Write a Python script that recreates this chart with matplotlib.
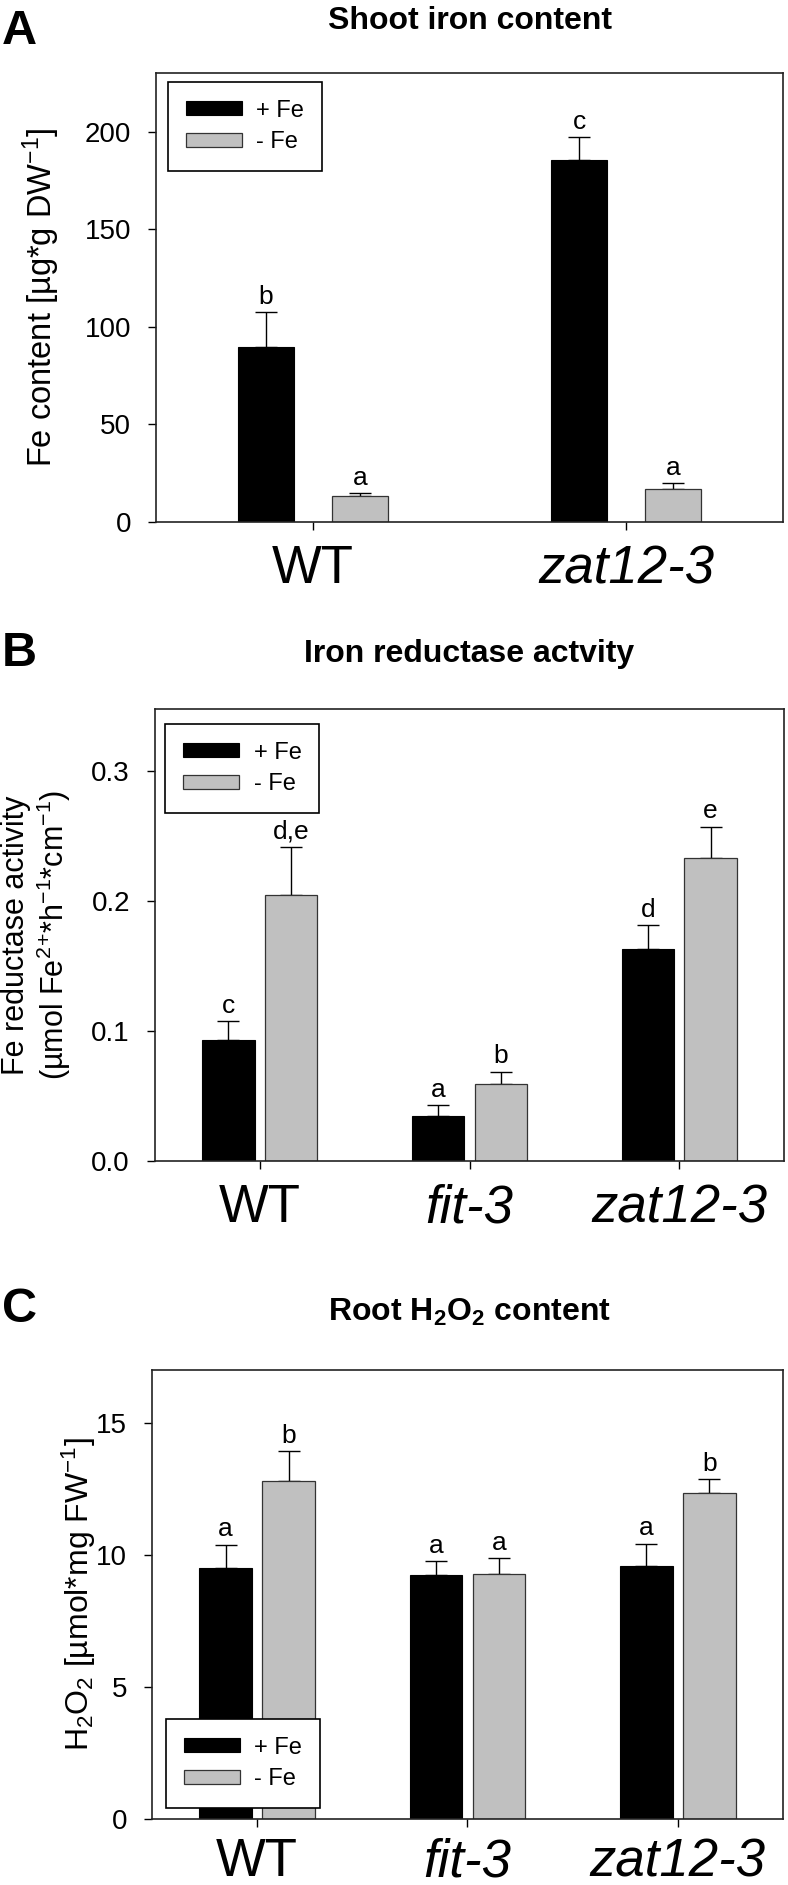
# Три панели: железо в побегах, редуктазная активность, H2O2 в корнях

import matplotlib
matplotlib.use("Agg")
import matplotlib.pyplot as plt
from matplotlib import font_manager

# Шрифт (Arial-подобный)
try:
    font_manager.findfont("Liberation Sans", fallback_to_default=False)
    main_font = "Liberation Sans"
except Exception:
    main_font = "DejaVu Sans"
plt.rcParams['font.family'] = [main_font, 'DejaVu Sans']
plt.rcParams['mathtext.default'] = 'regular'

# Данные панели A
genotypes_a = ["WT", "zat12-3"]
shoot_plus = [89.6, 185.4]
shoot_plus_err = [18.0, 11.8]
shoot_minus = [13.5, 17.1]
shoot_minus_err = [1.1, 2.8]
letters_a_plus = ["b", "c"]
letters_a_minus = ["a", "a"]

# Данные панели B
genotypes_bc = ["WT", "fit-3", "zat12-3"]
fcr_plus = [0.093, 0.035, 0.163]
fcr_plus_err = [0.0145, 0.0082, 0.0184]
fcr_minus = [0.205, 0.059, 0.233]
fcr_minus_err = [0.0365, 0.0097, 0.0243]
letters_b_plus = ["c", "a", "d"]
letters_b_minus = ["d,e", "b", "e"]

# Данные панели C
h2o2_plus = [9.52, 9.25, 9.58]
h2o2_plus_err = [0.87, 0.51, 0.84]
h2o2_minus = [12.78, 9.27, 12.35]
h2o2_minus_err = [1.14, 0.61, 0.51]
letters_c_plus = ["a", "a", "a"]
letters_c_minus = ["b", "a", "b"]

W, H = 788, 1885
fig = plt.figure(figsize=(W / 100, H / 100), dpi=100)


def px_axes(left, right, top, bottom):
    # координаты в пикселях -> доли фигуры
    return fig.add_axes([left / W, 1 - bottom / H, (right - left) / W, (bottom - top) / H])


def draw_panel(ax, names, plus, plus_err, minus, minus_err, let_plus, let_minus,
               width, tick_size, xpad=10):
    x = list(range(len(names)))
    xp = [i - 0.15 for i in x]
    xm = [i + 0.15 for i in x]
    ax.bar(xp, plus, width=width, color="black", edgecolor="black", linewidth=0.8,
           label="+ Fe", zorder=2)
    ax.bar(xm, minus, width=width, color="#c0c0c0", edgecolor="#333333", linewidth=0.9,
           label="- Fe", zorder=2)
    ax.errorbar(xp, plus, yerr=[[0] * len(x), plus_err], fmt="none", ecolor="black",
                elinewidth=1.0, capsize=8, capthick=1.0, zorder=1)
    ax.errorbar(xm, minus, yerr=[[0] * len(x), minus_err], fmt="none", ecolor="black",
                elinewidth=1.0, capsize=8, capthick=1.0, zorder=1)
    for xi, v, e, t in zip(xp + xm, plus + minus, plus_err + minus_err, let_plus + let_minus):
        ax.annotate(t, (xi, v + e), xytext=(0, 6), textcoords="offset points",
                    ha="center", va="baseline", fontsize=19)
    ax.set_xlim(-0.5, len(names) - 0.5)
    ax.set_xticks(x)
    ax.set_xticklabels(names)
    for lab in ax.get_xticklabels():
        if lab.get_text() != "WT":
            lab.set_style("italic")
    ax.tick_params(axis="x", direction="out", length=6, width=1, pad=xpad, labelsize=38)
    ax.tick_params(axis="y", direction="out", length=6, width=1, pad=12, labelsize=tick_size)
    for s in ax.spines.values():
        s.set_linewidth(1.2)
        s.set_color("#222222")


# Панель A
ax_a = px_axes(156, 783, 73, 522)
draw_panel(ax_a, genotypes_a, shoot_plus, shoot_plus_err, shoot_minus, shoot_minus_err,
           letters_a_plus, letters_a_minus, 0.18, 20)
ax_a.set_ylim(0, 230)
ax_a.set_yticks([0, 50, 100, 150, 200])
ax_a.set_ylabel("Fe content [µg*g DW$^{-1}$]", fontsize=23.5)
ax_a.yaxis.set_label_coords(-0.15, 0.5)

# Панель B
ax_b = px_axes(155, 784, 709, 1161)
draw_panel(ax_b, genotypes_bc, fcr_plus, fcr_plus_err, fcr_minus, fcr_minus_err,
           letters_b_plus, letters_b_minus, 0.25, 20)
ax_b.set_ylim(0, 0.348)
ax_b.set_yticks([0.0, 0.1, 0.2, 0.3])
ax_b.set_yticklabels(["0.0", "0.1", "0.2", "0.3"])
ax_b.set_ylabel("Fe reductase activity\n(µmol Fe$^{2}$$^{+}$*h$^{-1}$*cm$^{-1}$)",
                fontsize=22, linespacing=1.15)
ax_b.yaxis.set_label_coords(-0.13, 0.5)

# Панель C
ax_c = px_axes(152, 783, 1370, 1819)
draw_panel(ax_c, genotypes_bc, h2o2_plus, h2o2_plus_err, h2o2_minus, h2o2_minus_err,
           letters_c_plus, letters_c_minus, 0.25, 20, xpad=7)
ax_c.set_ylim(0, 17)
ax_c.set_yticks([0, 5, 10, 15])
ax_c.set_ylabel("H$_2$O$_2$ [µmol*mg FW$^{-1}$]", fontsize=23)
ax_c.yaxis.set_label_coords(-0.085, 0.5)

# Легенды
leg_kw = dict(fontsize=17, frameon=True, fancybox=False, edgecolor="black",
              framealpha=1, handlelength=2.4, handleheight=0.55, handletextpad=0.6,
              labelspacing=0.4, borderpad=0.75, borderaxespad=0)
for ax, loc, anchor in [(ax_a, "upper left", (0.019, 0.98)),
                        (ax_b, "upper left", (0.016, 0.967)),
                        (ax_c, "lower left", (0.022, 0.025))]:
    leg = ax.legend(loc=loc, bbox_to_anchor=anchor, **leg_kw)
    leg.get_frame().set_linewidth(1.2)
    leg.set_zorder(5)

# Заголовки и буквы панелей
cx = 469.5 / W
for title, base in [("Shoot iron content", 29), ("Iron reductase actvity", 662),
                    ("Root H$_2$O$_2$ content", 1321)]:
    fig.text(cx, 1 - base / H, title, ha="center", va="baseline", fontsize=23,
             fontweight="bold")
for letter, base in [("A", 44), ("B", 666), ("C", 1322)]:
    fig.text(2 / W, 1 - base / H, letter, ha="left", va="baseline", fontsize=35,
             fontweight="bold")

plt.savefig("out.png", dpi=100)
